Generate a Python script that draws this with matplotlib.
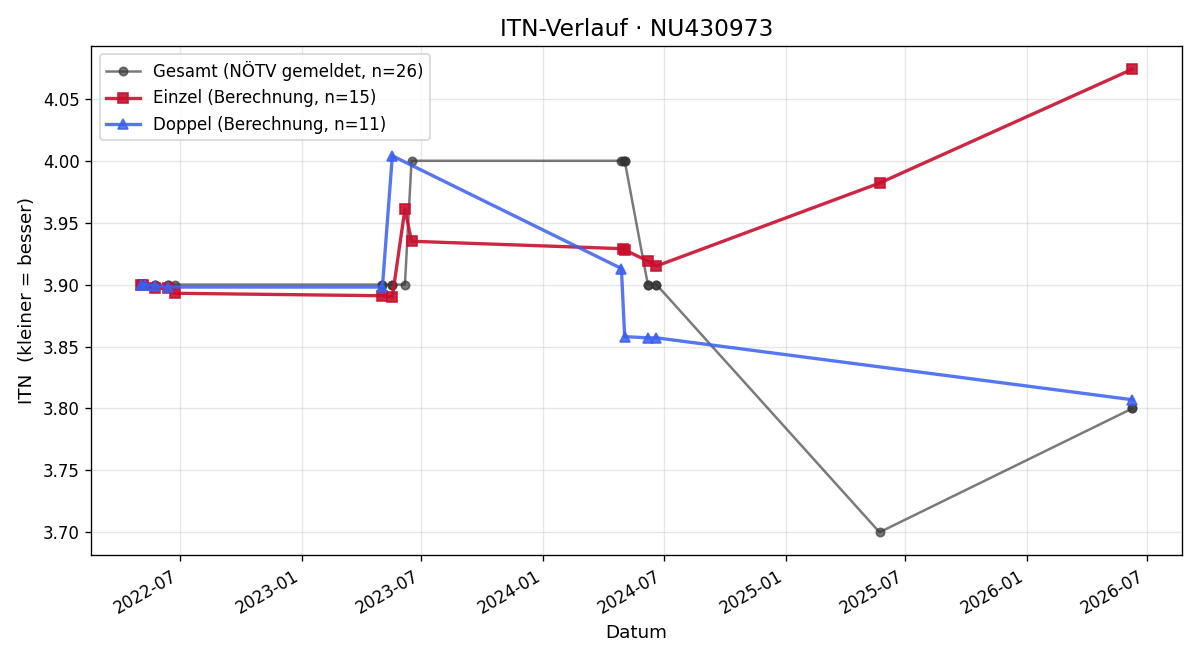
import matplotlib
matplotlib.use("Agg")
import matplotlib.pyplot as plt
import matplotlib.dates as mdates
import pandas as pd

# Gesamt (NÖTV gemeldet)
gesamt_dates = ["2022-05-03", "2022-05-04", "2022-05-06", "2022-05-10", "2022-05-24",
                "2022-05-24", "2022-06-13", "2022-06-13", "2022-06-23",
                "2023-05-03", "2023-05-03", "2023-05-18", "2023-05-18", "2023-06-06",
                "2023-06-16", "2024-04-28", "2024-04-30", "2024-05-03", "2024-05-03",
                "2024-06-07", "2024-06-07", "2024-06-20", "2024-06-20",
                "2025-05-23", "2026-06-09", "2026-06-09"]
gesamt_itn = [3.90, 3.90, 3.90, 3.90, 3.90, 3.90, 3.90, 3.90, 3.90,
              3.90, 3.90, 3.90, 3.90, 3.90,
              4.00, 4.00, 4.00, 4.00, 4.00,
              3.90, 3.90, 3.90, 3.90,
              3.70, 3.80, 3.80]

# Einzel (Berechnung)
einzel_dates = ["2022-05-03", "2022-05-06", "2022-05-24", "2022-06-13", "2022-06-23",
                "2023-05-03", "2023-05-18", "2023-06-06", "2023-06-16",
                "2024-04-30", "2024-05-03", "2024-06-07", "2024-06-20",
                "2025-05-23", "2026-06-09"]
einzel_itn = [3.900, 3.900, 3.897, 3.897, 3.893,
              3.891, 3.890, 3.961, 3.935,
              3.929, 3.928, 3.919, 3.915,
              3.982, 4.074]

# Doppel (Berechnung)
doppel_dates = ["2022-05-04", "2022-05-10", "2022-05-24", "2022-06-13",
                "2023-05-03", "2023-05-18",
                "2024-04-28", "2024-05-03", "2024-06-07", "2024-06-20",
                "2026-06-09"]
doppel_itn = [3.900, 3.900, 3.899, 3.898,
              3.898, 4.004,
              3.913, 3.858, 3.857, 3.857,
              3.807]

fig, ax = plt.subplots(figsize=(10, 5.5), dpi=120)

ax.plot(pd.to_datetime(gesamt_dates), gesamt_itn, marker="o", color="#333333",
        alpha=0.65, linewidth=1.5, markersize=5,
        label=f"Gesamt (NÖTV gemeldet, n={len(gesamt_itn)})")
ax.plot(pd.to_datetime(einzel_dates), einzel_itn, marker="s", color="#c8102e",
        alpha=0.9, linewidth=2, markersize=6,
        label=f"Einzel (Berechnung, n={len(einzel_itn)})")
ax.plot(pd.to_datetime(doppel_dates), doppel_itn, marker="^", color="#3a5ff0",
        alpha=0.85, linewidth=2, markersize=6,
        label=f"Doppel (Berechnung, n={len(doppel_itn)})")

ax.set_title("ITN-Verlauf · NU430973", fontsize=14)
ax.set_xlabel("Datum", fontsize=11)
ax.set_ylabel("ITN  (kleiner = besser)", fontsize=11)
ax.grid(True, alpha=0.3)
ax.xaxis.set_major_formatter(mdates.DateFormatter("%Y-%m"))
ax.legend(loc="upper left")
fig.autofmt_xdate()
fig.tight_layout()
fig.savefig("out.png")
